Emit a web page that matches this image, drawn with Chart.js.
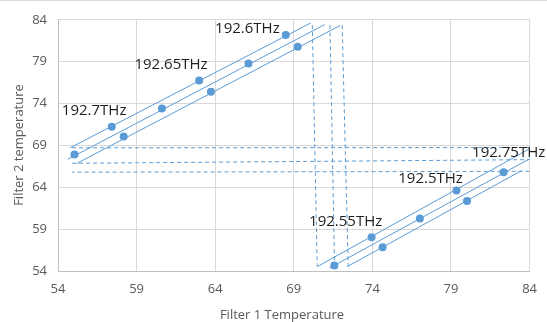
<!DOCTYPE html>
<html>
<head>
<meta charset="utf-8">
<script src="https://cdn.jsdelivr.net/npm/chart.js@4/dist/chart.umd.min.js"></script>
<style>
  html, body { margin: 0; padding: 0; background: #fff; }
  #wrap { position: relative; width: 547px; height: 322px; border-top: 1px solid #d9d9d9; box-sizing: border-box; }
</style>
</head>
<body>
<div id="wrap"><canvas id="c"></canvas></div>
<script>
// axis ticks
var tickValues = [54, 59, 64, 69, 74, 79, 84];

// measured dots (filter 1 temp, filter 2 temp)
var dotX = [55.05, 57.42, 58.18, 60.61, 62.98, 63.73, 66.12, 68.49, 69.25, 71.58, 73.95, 74.65, 77.02, 79.35, 80.02, 82.35];
var dotY = [67.90, 71.24, 70.06, 73.41, 76.76, 75.42, 78.77, 82.17, 80.78, 54.67, 58.02, 56.84, 60.27, 63.62, 62.37, 65.80];

// solid tuning lines, start and end
var solidX1 = [54.77, 54.62, 55.20, 70.49, 71.27, 72.40];
var solidY1 = [68.71, 67.34, 66.85, 54.52, 54.35, 54.52];
var solidX2 = [70.08, 70.97, 71.94, 84.10, 84.10, 83.50];
var solidY2 = [83.62, 83.43, 83.31, 68.70, 67.50, 66.00];

// dashed wrap lines, start and end
var dashX1 = [70.18, 71.30, 72.08, 84.10, 84.10, 84.00];
var dashY1 = [83.35, 83.35, 83.35, 68.75, 67.30, 65.90];
var dashX2 = [70.49, 71.60, 72.46, 54.77, 54.73, 54.90];
var dashY2 = [54.52, 54.35, 54.52, 68.71, 66.86, 65.80];

// channel labels
var labelText = ['192.7THz', '192.65THz', '192.6THz', '192.75THz', '192.5THz', '192.55THz'];
var labelX = [56.30, 61.19, 66.05, 82.67, 77.70, 72.30];
var labelY = [73.17, 78.67, 82.99, 68.08, 65.01, 59.92];

var BLUE = '#5b9bd5';
var FONT = "'Open Sans', 'Liberation Sans', sans-serif";

function seg(x1, y1, x2, y2){ return [{x:x1, y:y1}, {x:x2, y:y2}]; }

var datasets = [];
datasets.push({
  label: 'dots',
  data: dotX.map(function(x, i){ return {x:x, y:dotY[i]}; }),
  showLine: false,
  pointRadius: 4,
  pointBackgroundColor: BLUE,
  pointBorderColor: BLUE,
  pointBorderWidth: 0,
  order: 0
});
for (var i = 0; i < solidX1.length; i++) {
  datasets.push({
    label: 'line' + i,
    data: seg(solidX1[i], solidY1[i], solidX2[i], solidY2[i]),
    showLine: true, pointRadius: 0,
    borderColor: BLUE, borderWidth: 1,
    order: 1
  });
}
for (var j = 0; j < dashX1.length; j++) {
  datasets.push({
    label: 'dash' + j,
    data: seg(dashX1[j], dashY1[j], dashX2[j], dashY2[j]),
    showLine: true, pointRadius: 0,
    borderColor: BLUE, borderWidth: 1, borderDash: [4, 3],
    order: 2
  });
}

var textPlugin = {
  id: 'textPlugin',
  afterDatasetsDraw: function(chart){
    var ctx = chart.ctx, xs = chart.scales.x, ys = chart.scales.y;
    ctx.save();
    ctx.font = '15px ' + FONT;
    ctx.fillStyle = '#1e1e1e';
    ctx.textAlign = 'center';
    ctx.textBaseline = 'middle';
    for (var k = 0; k < labelText.length; k++) {
      ctx.fillText(labelText[k], xs.getPixelForValue(labelX[k]), ys.getPixelForValue(labelY[k]));
    }
    // axis titles
    ctx.font = '13px ' + FONT;
    ctx.fillStyle = '#595959';
    ctx.fillText('Filter 1 Temperature', 282, 314);
    ctx.translate(19, 144);
    ctx.rotate(-Math.PI / 2);
    ctx.fillText('Filter 2 temperature', 0, 0);
    ctx.restore();
  }
};

function fixedTicks(scale){ scale.ticks = tickValues.map(function(v){ return {value:v}; }); }

new Chart(document.getElementById('c'), {
  type: 'scatter',
  data: { datasets: datasets },
  options: {
    responsive: true,
    maintainAspectRatio: false,
    animation: false,
    layout: { padding: { top: 16, right: 16, left: 0, bottom: 0 } },
    plugins: { legend: { display: false }, tooltip: { enabled: false } },
    scales: {
      x: {
        type: 'linear', min: 54, max: 84,
        afterBuildTicks: fixedTicks,
        afterFit: function(s){ s.height = 51; },
        grid: { color: '#d9d9d9', drawTicks: false },
        border: { color: '#bfbfbf' },
        ticks: { padding: 10, color: '#595959', font: { family: FONT, size: 13 } }
      },
      y: {
        type: 'linear', min: 54, max: 84,
        afterBuildTicks: fixedTicks,
        afterFit: function(s){ s.width = 58; },
        grid: { color: '#d9d9d9', drawTicks: false },
        border: { color: '#bfbfbf' },
        ticks: { padding: 11, color: '#595959', font: { family: FONT, size: 13 } }
      }
    }
  },
  plugins: [textPlugin]
});
</script>
</body>
</html>
